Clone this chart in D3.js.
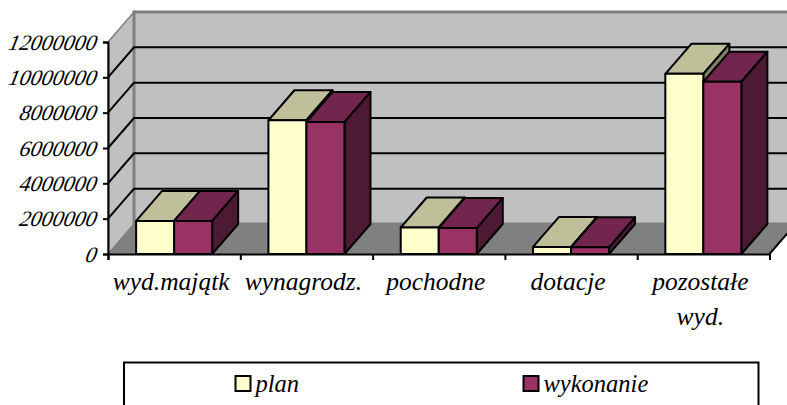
<!DOCTYPE html>
<html>
<head>
<meta charset="utf-8">
<style>
html, body { margin: 0; padding: 0; background: white; overflow: hidden; }
text { font-family: "Liberation Serif", serif; font-style: italic; font-size: 22px; fill: black; }
.cat { font-size: 25.5px; }
.legend-label { font-size: 24.5px; }
</style>
<script src="https://cdn.jsdelivr.net/npm/d3@7"></script>
</head>
<body>
<div id="canvas"></div>
<script>
"use strict"

/* Chart values */
let categories = ["wyd.majątk", "wynagrodz.", "pochodne", "dotacje", "pozostałe wyd."];
let planValues = [1870000, 7570000, 1500000, 400000, 10200000];
let wykonanieValues = [1870000, 7470000, 1470000, 380000, 9750000];
let yTicks = [0, 2000000, 4000000, 6000000, 8000000, 10000000, 12000000];

let svgWidth = 787;
let svgHeight = 405;

/* Plot corners and the depth of the 3d box */
let leftX = 108;
let rightX = 769.5;
let bottomY = 254;
let topY = 42;
let depthX = 26;
let depthY = -30;

let series = [
    { name: "plan", values: planValues, front: "#ffffcc", top: "#bfbf99", side: "#808066" },
    { name: "wykonanie", values: wykonanieValues, front: "#993366", top: "#73264d", side: "#4d1a33" }
];

let svg = d3.select("#canvas")
    .append("svg")
    .attr("width", svgWidth)
    .attr("height", svgHeight)
    .style("display", "block");

let xScale = d3.scaleBand()
    .domain(categories)
    .range([leftX, rightX]);

let seriesScale = d3.scaleBand()
    .domain(series.map(s => s.name))
    .range([0, xScale.bandwidth()])
    .paddingOuter(0.74);

let yScale = d3.scaleLinear()
    .domain([0, 12000000])
    .range([bottomY, topY]);

/* only for the tick marks between the categories */
let edgeScale = d3.scaleLinear()
    .domain([0, categories.length])
    .range([leftX, rightX]);

function poly(points) {
    return points.map(p => p.join(",")).join(" ");
}

/* Walls and floor */
svg.append("polygon")
    .attr("points", poly([[leftX, bottomY], [leftX + depthX, bottomY + depthY], [rightX + depthX, bottomY + depthY], [rightX, bottomY]]))
    .attr("fill", "#808080");

svg.append("polygon")
    .attr("points", poly([[leftX, topY], [leftX + depthX, topY + depthY], [leftX + depthX, bottomY + depthY], [leftX, bottomY]]))
    .attr("fill", "#c0c0c0")
    .attr("stroke", "#808080")
    .attr("stroke-width", 1.5);

svg.append("rect")
    .attr("x", leftX + depthX)
    .attr("y", topY + depthY)
    .attr("width", rightX - leftX)
    .attr("height", bottomY - topY)
    .attr("fill", "#c0c0c0")
    .attr("stroke", "#808080")
    .attr("stroke-width", 3);

/* Gridlines run up the left wall and along the back wall */
svg.selectAll(".grid")
    .data(yTicks.filter(d => d > 0 && d < 12000000))
    .join("polyline")
    .attr("class", "grid")
    .attr("fill", "none")
    .attr("stroke", "black")
    .attr("stroke-width", 2)
    .attr("points", d => poly([
        [leftX, yScale(d)],
        [leftX + depthX, yScale(d) + depthY],
        [rightX + depthX, yScale(d) + depthY]
    ]));

/* Right edge of the floor */
svg.append("line")
    .attr("x1", rightX)
    .attr("y1", bottomY)
    .attr("x2", rightX + depthX)
    .attr("y2", bottomY + depthY)
    .attr("stroke", "black")
    .attr("stroke-width", 2);

/* Bars, plan first so wykonanie sits on top of its side face */
series.forEach(function (s) {
    let bars = svg.append("g")
        .selectAll("g")
        .data(categories.map((c, i) => ({ category: c, value: s.values[i] })))
        .join("g")
        .attr("stroke", "black")
        .attr("stroke-width", 2)
        .attr("stroke-linejoin", "round");

    let x0 = d => xScale(d.category) + seriesScale(s.name);
    let x1 = d => x0(d) + seriesScale.bandwidth();

    bars.append("polygon")
        .attr("fill", s.top)
        .attr("points", d => poly([
            [x0(d), yScale(d.value)],
            [x0(d) + depthX, yScale(d.value) + depthY],
            [x1(d) + depthX, yScale(d.value) + depthY],
            [x1(d), yScale(d.value)]
        ]));

    bars.append("polygon")
        .attr("fill", s.side)
        .attr("points", d => poly([
            [x1(d), yScale(d.value)],
            [x1(d) + depthX, yScale(d.value) + depthY],
            [x1(d) + depthX, bottomY + depthY],
            [x1(d), bottomY]
        ]));

    bars.append("rect")
        .attr("fill", s.front)
        .attr("x", x0)
        .attr("y", d => yScale(d.value))
        .attr("width", seriesScale.bandwidth())
        .attr("height", d => bottomY - yScale(d.value));
});

/* Axes */
let yAxis = svg.append("g")
    .attr("transform", "translate(" + leftX + ",0)")
    .call(d3.axisLeft(yScale).tickValues(yTicks).tickFormat(d => String(d)).tickSize(5).tickPadding(6));

let xAxis = svg.append("g")
    .attr("transform", "translate(0," + bottomY + ")")
    .call(d3.axisBottom(edgeScale).ticks(categories.length).tickFormat("").tickSize(6).tickSizeOuter(6));

[yAxis, xAxis].forEach(function (axis) {
    axis.selectAll("path, line").attr("stroke", "black").attr("stroke-width", 2);
    axis.selectAll("text")
        .attr("fill", "black")
        .style("font-family", "'Liberation Serif', serif")
        .style("font-style", "italic")
        .style("font-size", "22px");
});

/* the digits of this font barely lean, so tilt them a little */
yAxis.selectAll("text").attr("transform", "skewX(-12)");

/* Category labels, the long one wraps on two lines */
let labels = svg.selectAll(".cat")
    .data(categories)
    .join("text")
    .attr("class", "cat")
    .attr("text-anchor", "middle");

labels.each(function (d) {
    let words = d.split(" ");
    words.forEach(function (word, i) {
        d3.select(this).append("tspan")
            .attr("x", xScale(d) + xScale.bandwidth() / 2 - 3)
            .attr("y", 290 + i * 35)
            .text(word);
    }, this);
});

/* Legend, its box runs off the bottom of the picture */
svg.append("rect")
    .attr("x", 124)
    .attr("y", 362.5)
    .attr("width", 634.5)
    .attr("height", 60)
    .attr("fill", "white")
    .attr("stroke", "black")
    .attr("stroke-width", 2);

let legendX = d3.scaleOrdinal()
    .domain(series.map(s => s.name))
    .range([235.5, 523.5]);

series.forEach(function (s) {
    svg.append("rect")
        .attr("x", legendX(s.name))
        .attr("y", 376)
        .attr("width", 15)
        .attr("height", 15)
        .attr("fill", s.front)
        .attr("stroke", "black")
        .attr("stroke-width", 2);

    svg.append("text")
        .attr("class", "legend-label")
        .attr("x", legendX(s.name) + 20)
        .attr("y", 392)
        .text(s.name);
});
</script>
</body>
</html>
